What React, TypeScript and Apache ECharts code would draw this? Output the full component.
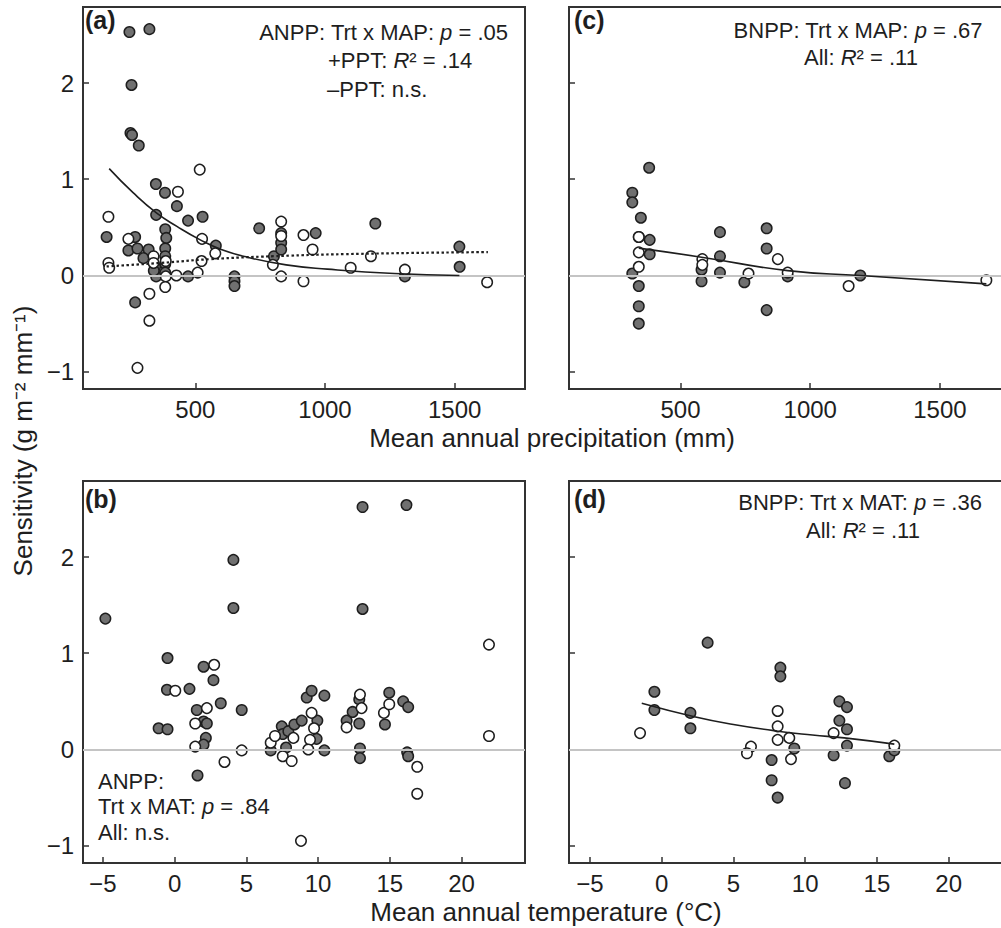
import React, { useEffect, useRef } from "react";
import * as echarts from "echarts";

const mapTicks = [500, 1000, 1500];
const matTicks = [-5, 0, 5, 10, 15, 20];
const sensTicks = [-1, 0, 1, 2];

// Panel (a): ANPP sensitivity vs MAP
const anppMapFilled = [
  [246, 2.53], [323, 2.56], [254, 1.98], [250, 1.48], [256, 1.46], [282, 1.35],
  [348, 0.95], [383, 0.86], [429, 0.72], [349, 0.63], [472, 0.57], [528, 0.61],
  [158, 0.4], [268, 0.4], [242, 0.26], [277, 0.28], [320, 0.27], [384, 0.48],
  [388, 0.39], [384, 0.28], [384, 0.2], [384, 0.12], [345, 0.09], [349, -0.01],
  [384, 0.03], [268, -0.28], [472, -0.01], [579, 0.31], [651, -0.01], [651, -0.06],
  [651, -0.11], [746, 0.49], [803, 0.2], [831, 0.44], [831, 0.34], [831, 0.27],
  [964, 0.44], [1194, 0.54], [1518, 0.3], [1519, 0.09], [1308, -0.01], [300, 0.18],
  [340, 0.05],
];
const anppMapOpen = [
  [517, 1.1], [433, 0.87], [165, 0.61], [242, 0.38], [526, 0.38], [165, 0.13],
  [168, 0.08], [339, 0.2], [339, 0.13], [386, 0.15], [386, -0.01], [427, 0.0],
  [509, 0.03], [524, 0.15], [577, 0.23], [323, -0.19], [323, -0.47], [384, -0.12],
  [277, -0.96], [831, 0.56], [831, 0.41], [799, 0.11], [831, -0.01], [917, 0.42],
  [952, 0.27], [917, -0.06], [1099, 0.08], [1177, 0.2], [1308, 0.06], [1625, -0.07],
];
const anppMapFitPlus = [
  [168, 1.11], [260, 0.86], [350, 0.65], [429, 0.51], [519, 0.37], [600, 0.27],
  [700, 0.19], [850, 0.11], [1009, 0.066], [1267, 0.02], [1518, 0.0],
];
const anppMapFitMinus = [
  [158, 0.094], [365, 0.13], [560, 0.17], [803, 0.2], [1138, 0.225], [1628, 0.243],
];

// Panel (c): BNPP sensitivity vs MAP
const bnppMapFilled = [
  [379, 1.12], [314, 0.86], [314, 0.76], [347, 0.6], [381, 0.37], [381, 0.22],
  [339, 0.4], [314, 0.02], [339, -0.11], [339, -0.32], [339, -0.5], [652, 0.45],
  [652, 0.2], [652, 0.03], [581, 0.06], [581, -0.06], [746, -0.07], [832, 0.49],
  [832, 0.28], [832, -0.36], [913, -0.01], [1193, 0.0],
];
const bnppMapOpen = [
  [339, 0.4], [339, 0.24], [339, 0.09], [584, 0.17], [584, 0.11], [762, 0.02],
  [875, 0.17], [913, 0.03], [1148, -0.11], [1679, -0.05],
];
const bnppMapFit = [[339, 0.284], [581, 0.19], [913, 0.05], [1193, 0.0], [1679, -0.087]];

// Panel (b): ANPP sensitivity vs MAT
const anppMatFilled = [
  [-4.82, 1.36], [4.1, 1.97], [4.1, 1.47], [13.1, 2.52], [16.16, 2.54], [13.1, 1.46],
  [-0.49, 0.95], [-0.53, 0.62], [1.04, 0.63], [2.02, 0.86], [2.71, 0.72], [3.22, 0.48],
  [4.68, 0.41], [-1.11, 0.22], [-0.49, 0.21], [1.55, 0.41], [2.02, 0.29], [2.25, 0.27],
  [2.18, 0.12], [2.02, 0.05], [1.6, -0.27], [6.7, -0.01], [7.47, 0.24], [7.54, 0.16],
  [7.93, 0.19], [7.77, 0.02], [8.35, 0.26], [8.86, 0.3], [9.21, 0.54], [9.55, 0.61],
  [9.95, 0.3], [9.9, 0.11], [10.44, 0.56], [10.44, -0.01], [11.99, 0.3], [12.41, 0.39],
  [12.87, 0.52], [12.87, 0.27], [12.92, 0.01], [12.92, -0.09], [14.66, 0.26], [14.96, 0.59],
  [15.93, 0.5], [16.28, 0.44], [16.21, -0.03], [16.28, -0.07],
];
const anppMatOpen = [
  [0.05, 0.61], [2.76, 0.88], [2.25, 0.43], [1.44, 0.27], [1.44, 0.03], [3.48, -0.13],
  [4.68, -0.01], [6.7, 0.07], [7.0, 0.14], [7.54, -0.07], [8.16, -0.12], [8.28, 0.12],
  [8.81, -0.95], [9.55, 0.38], [9.72, 0.22], [9.44, 0.1], [9.32, 0.0], [11.99, 0.23],
  [12.92, 0.57], [13.03, 0.43], [14.59, 0.38], [14.96, 0.47], [16.91, -0.18], [16.91, -0.46],
  [21.91, 1.09], [21.91, 0.14],
];

// Panel (d): BNPP sensitivity vs MAT
const bnppMatFilled = [
  [3.2, 1.11], [-0.51, 0.6], [-0.51, 0.41], [2.0, 0.38], [2.0, 0.22], [8.27, 0.85],
  [8.27, 0.76], [7.66, -0.11], [7.66, -0.32], [8.08, -0.5], [9.24, 0.01], [12.38, 0.5],
  [12.91, 0.44], [12.38, 0.3], [12.91, 0.21], [12.91, 0.04], [11.98, -0.06], [12.77, -0.35],
  [15.86, -0.07], [16.21, -0.01],
];
const bnppMatOpen = [
  [-1.51, 0.17], [8.08, 0.4], [8.08, 0.24], [8.08, 0.1], [8.89, 0.12], [9.01, -0.1],
  [6.22, 0.03], [5.94, -0.04], [11.98, 0.17], [16.21, 0.04],
];
const bnppMatFit = [
  [-1.39, 0.48], [2.28, 0.34], [5.0, 0.26], [8.08, 0.19], [10.5, 0.15], [12.72, 0.12], [16.21, 0.055],
];

const FONT = "'Liberation Sans', Arial, Helvetica, sans-serif";
const INK = "#1e1e1e";

export default function App() {
  const ref = useRef<HTMLDivElement>(null);
  useEffect(() => {
    const chart = echarts.init(ref.current!, null, { renderer: "svg" });
    const grids = [
      { left: 83, top: 7, width: 442, height: 382 },
      { left: 569, top: 7, width: 442, height: 382 },
      { left: 83, top: 481, width: 442, height: 382 },
      { left: 569, top: 481, width: 442, height: 382 },
    ].map((g) => ({ ...g, show: true, borderColor: "#333", borderWidth: 2, backgroundColor: "transparent" }));

    const fmt = (v: number) => String(v).replace("-", "\u2212");
    const mkX = (i: number, min: number, max: number, ticks: number[]) => ({
      type: "value", gridIndex: i, min, max,
      axisLine: { show: true, onZero: false, lineStyle: { color: "#333", width: 2 } },
      axisTick: { show: true, inside: true, length: 6, customValues: ticks, lineStyle: { color: "#333", width: 1.5 } },
      axisLabel: { show: true, customValues: ticks, formatter: fmt, fontSize: 24, color: INK, fontFamily: FONT, margin: 8 },
      splitLine: { show: false },
    });
    const mkY = (i: number, labels: boolean) => ({
      type: "value", gridIndex: i, min: -1.18, max: 2.79,
      axisLine: { show: true, onZero: false, lineStyle: { color: "#333", width: 2 } },
      axisTick: { show: true, inside: true, length: 6, customValues: sensTicks, lineStyle: { color: "#333", width: 1.5 } },
      axisLabel: { show: labels, customValues: sensTicks, formatter: fmt, fontSize: 24, color: INK, fontFamily: FONT, margin: 9 },
      splitLine: { show: false },
    });

    const zero = (i: number) => ({
      type: "scatter", xAxisIndex: i, yAxisIndex: i, data: [], z: 1, silent: true,
      markLine: {
        silent: true, symbol: "none", label: { show: false },
        lineStyle: { color: "#c4c4c4", width: 2, type: "solid" },
        data: [{ yAxis: 0 }],
      },
    });
    const filled = (i: number, data: number[][]) => ({
      type: "scatter", xAxisIndex: i, yAxisIndex: i, data, symbolSize: 10.5, z: 3,
      itemStyle: { color: "#707070", borderColor: INK, borderWidth: 1.5, opacity: 1 },
    });
    const open = (i: number, data: number[][]) => ({
      type: "scatter", xAxisIndex: i, yAxisIndex: i, data, symbolSize: 10.5, z: 4,
      itemStyle: { color: "#ffffff", borderColor: INK, borderWidth: 1.5, opacity: 1 },
    });
    const fit = (i: number, data: number[][], dotted = false) => ({
      type: "line", xAxisIndex: i, yAxisIndex: i, data, smooth: true, showSymbol: false, z: 5,
      lineStyle: { color: INK, width: dotted ? 2.2 : 1.6, type: dotted ? [2.5, 2.5] : "solid" },
    });

    const rich = {
      i: { fontStyle: "italic", fontSize: 22, fontFamily: FONT, color: INK },
    };
    const txt = (x: number, y: number, text: string, align: string, extra: any = {}) => ({
      type: "text", x, y, z: 10,
      style: { text, x: 0, y: 0, textAlign: align, textVerticalAlign: "middle", fontSize: 22, fontFamily: FONT, fill: INK, rich, ...extra },
    });
    const lbl = (x: number, y: number, text: string) =>
      txt(x, y, text, "left", { fontWeight: "bold", fontSize: 25 });

    const option: any = {
      animation: false,
      backgroundColor: "#ffffff",
      grid: grids,
      xAxis: [mkX(0, 67, 1771, mapTicks), mkX(1, 70, 1774, mapTicks), mkX(2, -6.38, 24.42, matTicks), mkX(3, -6.46, 24.34, matTicks)],
      yAxis: [mkY(0, true), mkY(1, false), mkY(2, true), mkY(3, false)],
      series: [
        zero(0), zero(1), zero(2), zero(3),
        filled(0, anppMapFilled), open(0, anppMapOpen), fit(0, anppMapFitPlus), fit(0, anppMapFitMinus, true),
        filled(1, bnppMapFilled), open(1, bnppMapOpen), fit(1, bnppMapFit),
        filled(2, anppMatFilled), open(2, anppMatOpen),
        filled(3, bnppMatFilled), open(3, bnppMatOpen), fit(3, bnppMatFit),
      ],
      graphic: [
        lbl(85, 20, "(a)"),
        txt(508, 32, "ANPP: Trt x MAP: {i|p} = .05", "right"),
        txt(328, 60, "+PPT: {i|R}\u00b2 = .14", "left"),
        txt(327, 89, "\u2013PPT: n.s.", "left"),
        lbl(574, 20, "(c)"),
        txt(858, 30, "BNPP: Trt x MAP: {i|p} = .67", "center"),
        txt(861, 57, "All: {i|R}\u00b2 = .11", "center"),
        lbl(85, 499, "(b)"),
        txt(98, 781, "ANPP:", "left"),
        txt(98, 806, "Trt x MAT: {i|p} = .84", "left"),
        txt(98, 832, "All: n.s.", "left"),
        lbl(574, 499, "(d)"),
        txt(860, 502, "BNPP: Trt x MAT: {i|p} = .36", "center"),
        txt(863, 530, "All: {i|R}\u00b2 = .11", "center"),
        txt(552, 438, "Mean annual precipitation (mm)", "center", { fontSize: 26 }),
        txt(546, 912, "Mean annual temperature (\u00b0C)", "center", { fontSize: 26 }),
        {
          type: "text", x: 23, y: 441, rotation: Math.PI / 2, z: 10,
          style: { text: "Sensitivity (g m\u207b\u00b2 mm\u207b\u00b9)", textAlign: "center", textVerticalAlign: "middle", fontSize: 26, fontFamily: FONT, fill: INK },
        },
      ],
    };
    chart.setOption(option);
    return () => chart.dispose();
  }, []);
  return (
    <div style={{ position: "fixed", left: 0, top: 0, width: 1001, height: 928, overflow: "hidden", background: "#fff" }}>
      <div ref={ref} style={{ width: 1030, height: 928 }} />
    </div>
  );
}
